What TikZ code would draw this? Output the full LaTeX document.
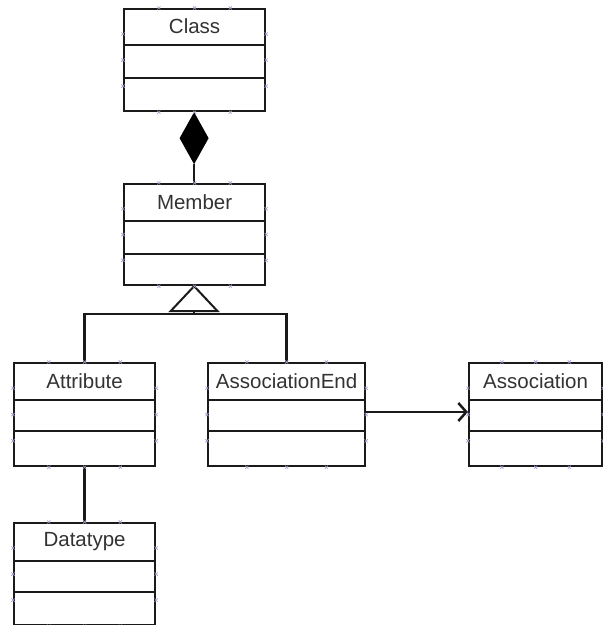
\documentclass[tikz,border=0pt]{standalone}
\usepackage{fontspec}
\setmainfont{Liberation Sans}
\usetikzlibrary{calc,arrows.meta}
\definecolor{edge}{HTML}{1A1A1A}
\definecolor{txt}{HTML}{333333}
\definecolor{handle}{HTML}{9C9CD0}
\tikzset{
  classbox/.style={draw=edge, line width=2.2pt, rectangle, inner sep=0pt, anchor=north west, fill=white},
  cname/.style={text=txt, font=\fontsize{20.5}{24}\selectfont, inner sep=0pt},
  link/.style={draw=edge, line width=2.5pt},
  handlemark/.style={draw=handle, line width=0.6pt},
}
% compartment dividers of a class box, measured from its top edge
\newcommand\compartments[3]{%
  \draw[edge, line width=2.2pt] ([yshift=-#2]#1.north west) -- ([yshift=-#2]#1.north east);
  \draw[edge, line width=2.2pt] ([yshift=-#3]#1.north west) -- ([yshift=-#3]#1.north east);
}
% small connection handles at the quarter points of each side
\newcommand\handles[1]{%
  \foreach \f in {0.25,0.5,0.75}{%
    \foreach \a/\b in {north west/north east, south west/south east, north west/south west, north east/south east}{%
      \path ($(#1.\a)!\f!(#1.\b)$) coordinate (h);
      \draw[handlemark] ($(h)+(-1.6,-1.6)$) -- ($(h)+(1.6,1.6)$);
      \draw[handlemark] ($(h)+(-1.6,1.6)$) -- ($(h)+(1.6,-1.6)$);
    }%
  }%
}
\begin{document}
\begin{tikzpicture}[x=1pt,y=1pt]
\useasboundingbox (0,0) rectangle (603,625);

% class boxes
\node[classbox, minimum width=141, minimum height=102] (class) at (123,617) {};
\node[classbox, minimum width=141, minimum height=101] (member) at (123,442) {};
\node[classbox, minimum width=141, minimum height=103] (attribute) at (13,263) {};
\node[classbox, minimum width=157, minimum height=103] (assocend) at (207,263) {};
\node[classbox, minimum width=133, minimum height=103] (association) at (468,263) {};
\node[classbox, minimum width=141, minimum height=102] (datatype) at (13,103) {};

\compartments{class}{37}{70}
\compartments{member}{38}{71}
\compartments{attribute}{38}{69}
\compartments{assocend}{38}{69}
\compartments{association}{38}{69}
\compartments{datatype}{39}{70}

% class names
\node[cname] (classlbl) at ([yshift=-18.5]class.north) {Class};
\node[cname] (memberlbl) at ([yshift=-19]member.north) {Member};
\node[cname] (attributelbl) at ([yshift=-19]attribute.north) {Attribute};
\node[cname] (assocendlbl) at ([yshift=-19]assocend.north) {AssociationEnd};
\node[cname] (associationlbl) at ([yshift=-19]association.north) {Association};
\node[cname] (datatypelbl) at ([yshift=-19.5]datatype.north) {Datatype};

% composition: Class owns Member
\coordinate (dtop) at ([xshift=-0.5]class.south);
\coordinate (dbot) at ($(dtop)+(0,-52)$);
\fill[black] (dtop) -- ($(dtop)+(14.5,-26)$) -- (dbot) -- ($(dtop)+(-14.5,-26)$) -- cycle;
\draw[link] (dbot) -- ([xshift=-0.5]member.north);

% generalization: Attribute and AssociationEnd specialize Member
\coordinate (apex) at ([xshift=-0.5]member.south);
\coordinate (tbase) at ($(apex)+(0,-25)$);
\coordinate (bus) at ($(apex)+(0,-28)$);
\draw[link] (tbase) -- (bus);
\draw[link] (attribute.north) |- (bus) -| (assocend.north);
\draw[draw=edge, line width=2pt, fill=white, line join=miter]
  (apex) -- ($(tbase)+(-23.5,0)$) -- ($(tbase)+(23.5,0)$) -- cycle;

% Attribute typed by Datatype
\draw[link] (attribute.south) -- (datatype.north);

% navigable association end
\coordinate (arrstart) at ([yshift=-50]assocend.north east);
\draw[link, -{Straight Barb[length=8pt,width=18pt,line width=2.5pt]}]
  (arrstart) -- (arrstart -| association.west);

% connection handles
\handles{class}
\handles{member}
\handles{attribute}
\handles{assocend}
\handles{association}
\handles{datatype}
\end{tikzpicture}
\end{document}
